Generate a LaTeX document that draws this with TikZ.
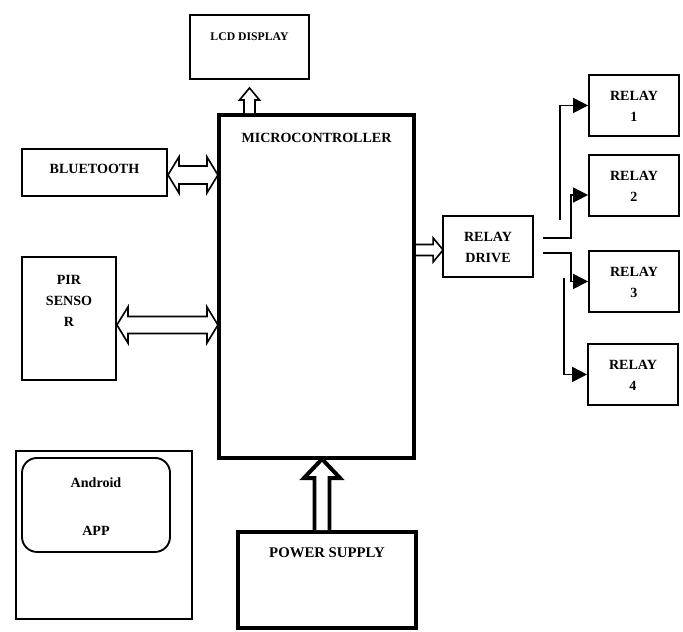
\documentclass[tikz,border=0pt]{standalone}
\usepackage{fontspec}
\setmainfont{Liberation Serif}
\usepackage{tikz}
\usetikzlibrary{arrows.meta, positioning, calc}
\tikzset{
  blk/.style={rectangle, draw=black, line width=1.6pt, inner sep=0pt,
    align=center, font=\bfseries\fontsize{12}{18}\selectfont},
  thkblk/.style={blk, line width=3.6pt},
  relaybox/.style={blk, minimum width=2.7cm, text height=1.39cm, text depth=0.44cm},
  hollow/.style={draw=black, fill=white, line width=1.4pt, line join=miter},
  thkhollow/.style={hollow, line width=3.4pt},
  relarr/.style={-{Triangle[length=0.45cm, width=0.45cm]}, line width=1.5pt}
}
\begin{document}
\begin{tikzpicture}[x=0.03cm, y=-0.03cm]
  \useasboundingbox (0,0) rectangle (683,631);
  % main blocks
  \node[thkblk, anchor=north, minimum width=5.85cm, text height=0.83cm, text depth=9.46cm]
    (mcu) at (316.5,113) {MICROCONTROLLER};
  \node[blk, anchor=north, minimum width=3.57cm, text height=0.78cm, text depth=1.14cm,
    font=\bfseries\fontsize{10}{12}\selectfont] (lcd) at (249.5,14) {LCD DISPLAY};
  \node[blk, anchor=north, minimum width=4.35cm, text height=0.74cm, text depth=0.67cm]
    (bt) at (94.5,148) {BLUETOOTH};
  \node[blk, anchor=north, minimum width=2.82cm, text height=2.09cm, text depth=1.60cm]
    (pir) at (69,256) {PIR\\SENSO\\R};
  \node[thkblk, anchor=north, minimum width=5.34cm, text height=0.77cm, text depth=2.11cm,
    font=\bfseries\fontsize{12.6}{18}\selectfont] (pwr) at (327,530) {POWER SUPPLY};
  % android app
  \node[blk, anchor=north, minimum width=5.28cm, minimum height=5.04cm] (phone) at (104,450) {};
  \node[blk, anchor=north, rounded corners=0.45cm, minimum width=4.44cm,
    text height=2.33cm, text depth=0.49cm] (app) at (96,457) {Android\\[23pt]APP};
  % relays
  \node[relaybox, anchor=north] (drv) at (488,215) {RELAY\\DRIVE};
  \node[relaybox, anchor=north] (r1) at (634,74) {RELAY\\1};
  \node[relaybox, anchor=north] (r2) at (634,154) {RELAY\\2};
  \node[relaybox, anchor=north] (r3) at (634,250) {RELAY\\3};
  \node[relaybox, anchor=north] (r4) at (633,343) {RELAY\\4};
  % hollow arrows
  \draw[hollow] (mcu.north -| lcd.south) ++(-5.5,0) -- ++(0,-13) -- ++(-4.5,0)
    -- ++(10,-12) -- ++(10,12) -- ++(-4.5,0) -- ++(0,13);
  \draw[hollow] ($(bt.east)+(0,2.5)$) -- ++(11,-18) -- ++(0,9) -- ++(28,0) -- ++(0,-9)
    -- ++(11,18) -- ++(-11,18) -- ++(0,-9) -- ++(-28,0) -- ++(0,9) -- cycle;
  \draw[hollow] ($(pir.east)+(0,6.5)$) -- ++(11,-18) -- ++(0,9.5) -- ++(79,0) -- ++(0,-9.5)
    -- ++(11,18) -- ++(-11,18) -- ++(0,-9.5) -- ++(-79,0) -- ++(0,9.5) -- cycle;
  \draw[hollow] ($(mcu.east |- drv.west)+(0,3.5)$) ++(0,-5.5) -- ++(17,0) -- ++(0,-6.5)
    -- ++(10,12) -- ++(-10,12) -- ++(0,-6.5) -- ++(-17,0);
  \draw[thkhollow] ($(pwr.north)+(-5,0)$) ++(-7.5,0) -- ++(0,-52) -- ++(-10.5,0)
    -- ++(18,-19) -- ++(18,19) -- ++(-10.5,0) -- ++(0,52);
  % relay lines
  \coordinate (c1) at (560,220);
  \coordinate (c2) at (543,238);
  \coordinate (c2b) at (571,195);
  \coordinate (c3) at (543,253);
  \coordinate (c4) at (564,278);
  \draw[relarr] (c1) |- (r1.west);
  \draw[relarr] (c2) -| (c2b) -- (c2b -| r2.west);
  \draw[relarr] (c3) -| ([xshift=-0.51cm]r3.west) -- (r3.west);
  \draw[relarr] (c4) |- (r4.west);
\end{tikzpicture}
\end{document}
